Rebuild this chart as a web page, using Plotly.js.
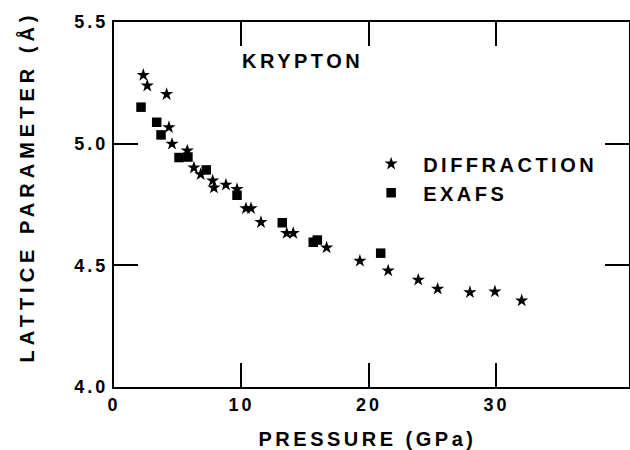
<!DOCTYPE html>
<html>
<head>
<meta charset="utf-8">
<script src="https://cdn.plot.ly/plotly-3.0.1.min.js"></script>
<style>
  html, body { margin: 0; padding: 0; background: #fff; }
  #chart { width: 630px; height: 450px; }
  svg text { letter-spacing: 3.5px; }
  .xtick text, .ytick text { letter-spacing: 3px; }
  .ytitle { letter-spacing: 5px; translate: 0px -18px; }
  .xtitle { translate: -4px 0px; }
</style>
</head>
<body>
<div id="chart"></div>
<script>
// Diffraction data (pressure GPa, lattice parameter Å)
const diffPressure = [2.30, 2.61, 4.13, 4.31, 4.55, 5.75, 6.27, 6.80, 7.74, 7.84, 8.78, 9.65,
  10.35, 10.75, 11.53, 13.55, 14.06, 16.68, 19.29, 21.51, 23.87, 25.39, 27.92, 29.88, 31.98];
const diffLattice = [5.282, 5.238, 5.203, 5.067, 4.999, 4.971, 4.901, 4.874, 4.848, 4.819, 4.831, 4.813,
  4.734, 4.734, 4.677, 4.632, 4.632, 4.573, 4.518, 4.478, 4.440, 4.403, 4.389, 4.392, 4.355];

// EXAFS data
const exafsPressure = [2.12, 3.35, 3.69, 5.10, 5.80, 7.24, 9.65, 13.20, 15.63, 15.95, 20.92];
const exafsLattice = [5.150, 5.088, 5.036, 4.943, 4.945, 4.892, 4.788, 4.675, 4.595, 4.604, 4.550];

const xTicks = [0, 10, 20, 30];
const yTicks = [4.0, 4.5, 5.0, 5.5];
const yTickText = ["4.0", "4.5", "5.0", "5.5"];

const FONT = "Liberation Sans, Arial, Helvetica, sans-serif";
const big = { family: FONT, size: 20, color: "#000", weight: "bold" };

const traces = [
  {
    x: diffPressure, y: diffLattice, type: "scatter", mode: "markers",
    name: "DIFFRACTION", legendgroup: "d",
    marker: { symbol: "star", size: 10, color: "#000" }
  },
  {
    x: exafsPressure, y: exafsLattice, type: "scatter", mode: "markers",
    name: "EXAFS", legendgroup: "e",
    marker: { symbol: "square", size: 9.5, color: "#000" }
  }
];

const axisCommon = {
  showgrid: false, zeroline: false,
  showline: true, linecolor: "#000", linewidth: 2,
  mirror: "ticks", ticks: "inside", ticklen: 24, tickwidth: 2, tickcolor: "#000",
  tickfont: { family: FONT, size: 18, color: "#000", weight: "bold" }
};

const layout = {
  width: 630, height: 450,
  paper_bgcolor: "#fff", plot_bgcolor: "#fff",
  margin: { l: 114, r: 1, t: 22, b: 63 },
  font: big,
  showlegend: true,
  legend: {
    x: 0.476, y: 0.665, xanchor: "left", yanchor: "top",
    bgcolor: "rgba(0,0,0,0)", itemwidth: 54, tracegroupgap: 0,
    font: big
  },
  xaxis: Object.assign({}, axisCommon, {
    range: [0, 40.4], tickvals: xTicks, ticktext: xTicks.map(String),
    title: { text: "PRESSURE (GPa)", font: big, standoff: 18 }
  }),
  yaxis: Object.assign({}, axisCommon, {
    range: [4.0, 5.5], tickvals: yTicks, ticktext: yTickText,
    title: { text: "LATTICE PARAMETER (Å)", font: big, standoff: 34 }
  }),
  annotations: [
    { x: 14.75, y: 5.338, xref: "x", yref: "y", text: "KRYPTON", showarrow: false, font: big }
  ]
};

Plotly.newPlot("chart", traces, layout, { displayModeBar: false, staticPlot: true });
</script>
</body>
</html>
